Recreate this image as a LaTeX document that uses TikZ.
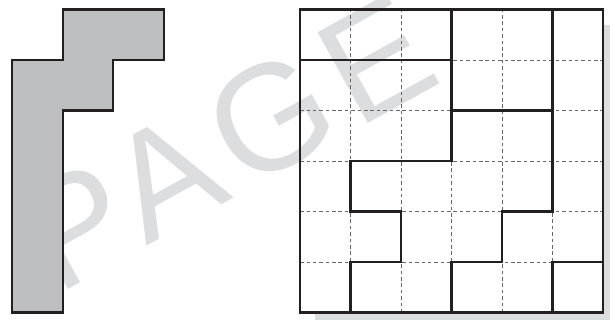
\documentclass[tikz,border=0pt]{standalone}
\usepackage{fontspec}
\newfontfamily\markfont{Liberation Sans}[LetterSpace=8]
\definecolor{piece}{RGB}{188,190,192}
\definecolor{wmgray}{RGB}{220,221,223}
\definecolor{ink}{RGB}{35,31,32}

\begin{document}
\begin{tikzpicture}[
    outline/.style={draw=ink,line width=1.2pt,line join=miter},
    cut/.style={ink,line width=1.3pt,line cap=rect},
    guide/.style={black!60,line width=0.4pt,dash pattern=on 2pt off 1.6pt}]
  \useasboundingbox (-0.2436,-0.1485) rectangle (11.836,6.188);
  % shadow and paper of the board
  \fill[wmgray] (6,-0.3) rectangle (12,5.7);
  \fill[white] (5.7,0) rectangle (11.7,6);
  % watermark
  \node[text=wmgray,rotate=29,anchor=base west,inner sep=0pt,
        font=\markfont\fontsize{85}{85}\selectfont] (wm) at (0.887,0.329) {PAGE};
  % the piece
  \draw[outline,fill=piece] (1,6) -- (3,6) -- (3,5) -- (2,5) -- (2,4) -- (1,4)
    -- (1,0) -- (0,0) -- (0,5) -- (1,5) -- cycle;
  % board, 6x6
  \begin{scope}[shift={(5.7,0)}]
    \foreach \i in {1,...,5} {
      \draw[guide] (\i,0) -- (\i,6);
      \draw[guide] (0,\i) -- (6,\i);
    }
    \draw[cut] (0,5) -- (3,5) (3,6) -- (3,3) -- (1,3) -- (1,2) -- (2,2) -- (2,1)
      -- (1,1) -- (1,0)
      (5,6) -- (5,2) -- (4,2) -- (4,1) -- (3,1) -- (3,0)
      (3,4) -- (5,4) (5,0) -- (5,1) -- (6,1);
    \draw[cut] (0,0) rectangle (6,6);
  \end{scope}
\end{tikzpicture}
\end{document}
